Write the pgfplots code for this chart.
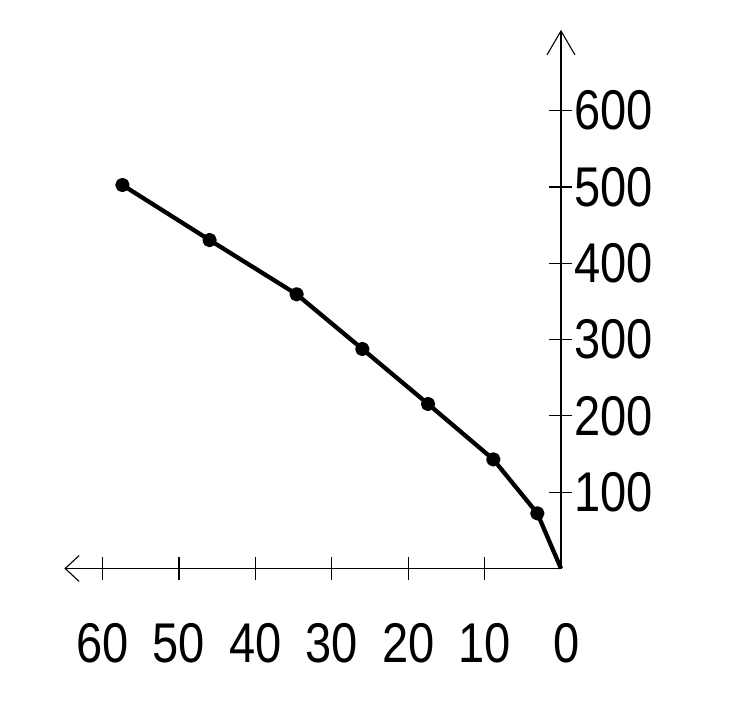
\documentclass[border=0pt]{standalone}
\usepackage{fontspec}
\setmainfont[FakeStretch=0.84]{Liberation Sans}
\usepackage{pgfplots}
\pgfplotsset{compat=1.18}
\usetikzlibrary{arrows.meta}
\begin{document}
\begin{tikzpicture}
\useasboundingbox (-561pt,-135.5pt) rectangle (172pt,568.5pt);
\begin{axis}[
  anchor=origin, at={(0pt,0pt)},
  x=7.64pt, y=0.763pt, x dir=reverse,
  xmin=0, xmax=65, ymin=0, ymax=706,
  axis lines=middle,
  clip=false,
  x axis line style={line width=1.1pt, -{Straight Barb[length=14pt,width=26pt,line width=1.1pt]}},
  y axis line style={line width=1.1pt, -{Straight Barb[length=24pt,width=28pt,line width=1.1pt]}},
  xtick={10,20,30,40,50,60},
  extra x ticks={0},
  extra x tick style={major tick length=0pt, xticklabel style={yshift=-11.5pt, xshift=6pt}},
  ytick={100,200,300,400,500,600},
  tick align=center,
  major tick length=23pt,
  tick style={black, line width=1.1pt},
  /pgf/number format/assume math mode=true,
  xticklabel style={font=\fontsize{56}{60}\selectfont, anchor=north, yshift=-40pt},
  yticklabel style={font=\fontsize{56}{60}\selectfont, anchor=west, xshift=21pt},
]
\addplot[black, line width=4.3pt, line join=round, mark=*, mark size=5pt, mark indices={2,3,4,5,6,7,8}] coordinates {
  (0,0) (3.1,72.3) (8.86,143) (17.4,215.6) (26.0,287.7) (34.6,359.4) (46.0,430.5) (57.4,502.6)
};
\end{axis}
\end{tikzpicture}
\end{document}
